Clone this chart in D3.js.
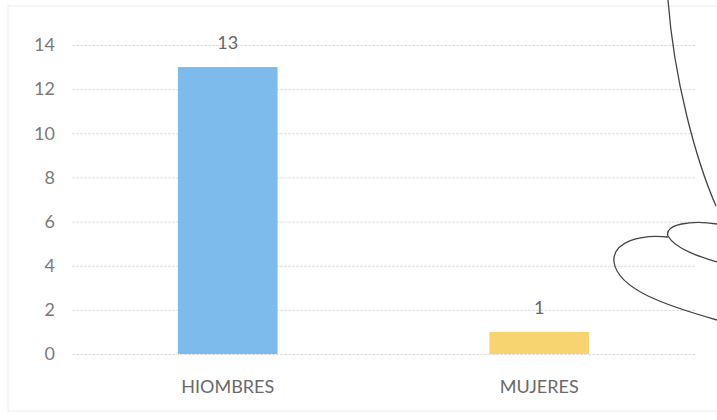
<!DOCTYPE html>
<html>
<head>
<meta charset="utf-8">
<script src="https://cdn.jsdelivr.net/npm/d3@7"></script>
<style>
  body { margin: 0; background: #fff; }
  svg { display: block; font-family: Lato, "Open Sans", sans-serif; }
</style>
</head>
<body>
<div id="chart"></div>
<script>
const categories = ['HIOMBRES', 'MUJERES']
const values = [13, 1]
const barColors = ['#7dbbec', '#f7d46f']
const yTicks = [0, 2, 4, 6, 8, 10, 12, 14]

const width = 717
const height = 420
const chart = {left: 72, right: 695, top: 45, bottom: 354}

const svg = d3.select('#chart').append('svg')
  .attr('width', width)
  .attr('height', height)

// faint scan border
svg.append('rect')
  .attr('x', 8).attr('y', 6)
  .attr('width', width + 20).attr('height', 405)
  .attr('fill', 'none')
  .attr('stroke', '#ececec')

const x = d3.scaleBand()
  .domain(categories)
  .range([chart.left, chart.right])
  .paddingInner(0.68)
  .paddingOuter(0.34)

const y = d3.scaleLinear()
  .domain([0, 14])
  .range([chart.bottom, chart.top])

// gridlines + tick labels
const yAxis = d3.axisLeft(y)
  .tickValues(yTicks)
  .tickSize(-(chart.right - chart.left))
  .tickPadding(17)

const gy = svg.append('g')
  .attr('transform', `translate(${chart.left},0)`)
  .call(yAxis)
gy.select('.domain').remove()
gy.selectAll('.tick line').attr('stroke', '#dedede').attr('stroke-dasharray', '3,1')
gy.selectAll('.tick text')
  .attr('fill', '#7a7a7a')
  .attr('font-size', 18)
  .attr('font-family', 'Lato, "Open Sans", sans-serif')

// bars
svg.selectAll('rect.bar')
  .data(values)
  .enter()
    .append('rect')
    .attr('class', 'bar')
    .attr('x', (d, i) => x(categories[i]))
    .attr('y', (d) => y(d))
    .attr('width', x.bandwidth())
    .attr('height', (d) => y(0) - y(d))
    .attr('fill', (d, i) => barColors[i])

// value labels
svg.selectAll('text.val')
  .data(values)
  .enter()
    .append('text')
    .attr('class', 'val')
    .attr('x', (d, i) => x(categories[i]) + x.bandwidth() / 2)
    .attr('y', (d) => y(d) - 18)
    .attr('text-anchor', 'middle')
    .attr('fill', '#666')
    .attr('font-size', 18)
    .text((d) => d)

// category labels
const xAxis = d3.axisBottom(x).tickSize(0).tickPadding(26)
const gx = svg.append('g')
  .attr('transform', `translate(0,${chart.bottom})`)
  .call(xAxis)
gx.select('.domain').remove()
gx.selectAll('.tick text')
  .attr('fill', '#6a6a6a')
  .attr('font-size', 18)
  .attr('font-family', 'Lato, "Open Sans", sans-serif')

// handwritten signature over the scan
const sig = svg.append('g')
  .attr('fill', 'none')
  .attr('stroke', '#444')
  .attr('stroke-width', 1.3)
sig.append('path').attr('d', 'M668,0 C674,80 696,160 716,206')
sig.append('path').attr('d', 'M717,224 C692,220 664,224 668,236 C676,250 704,258 717,262')
sig.append('path').attr('d', 'M717,320 C668,306 618,290 614,262 C612,242 640,234 668,237')
</script>
</body>
</html>
